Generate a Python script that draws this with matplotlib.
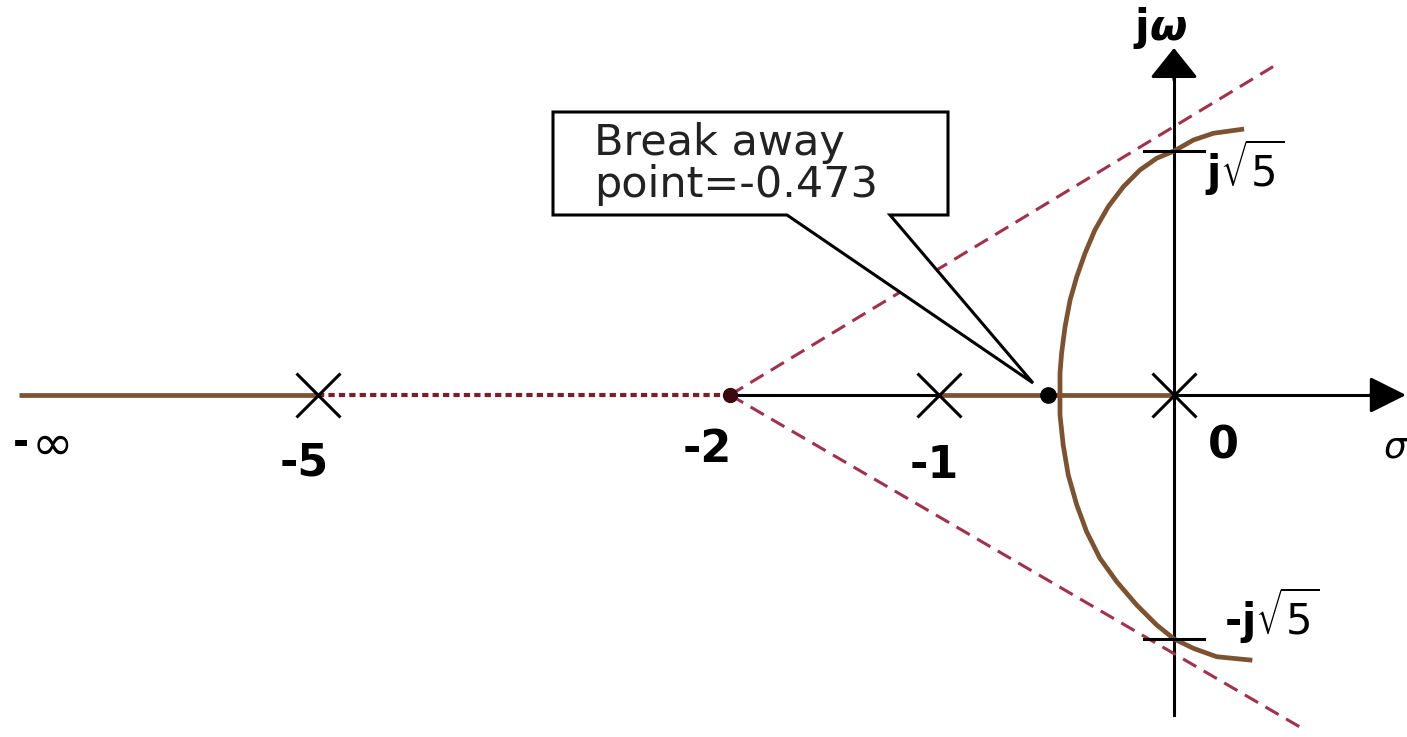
import numpy as np
import matplotlib.pyplot as plt
from matplotlib.patches import Polygon

# Root locus of G(s)H(s) = K / (s (s+1) (s+5))
poles = [-5, -1, 0]
centroid = -2
breakaway = -0.473
jw_cross = 2.236          # sqrt(5)
neg_inf = -7.17           # where the drawn "-inf" branch starts

# locus branches (sigma, omega)
upper_sigma = [-0.428, -0.428, -0.422, -0.409, -0.390, -0.365, -0.334, -0.297,
               -0.247, -0.190, -0.128, -0.065, 0.0, 0.082, 0.167, 0.287]
upper_omega = [0.0, 0.199, 0.382, 0.626, 0.871, 1.084, 1.299, 1.512,
               1.726, 1.909, 2.062, 2.170, 2.236, 2.337, 2.399, 2.435]
lower_sigma = [-0.428, -0.428, -0.416, -0.397, -0.365, -0.328, -0.278, -0.215,
               -0.140, -0.065, 0.0, 0.082, 0.181, 0.322]
lower_omega = [0.0, -0.183, -0.458, -0.733, -1.008, -1.253, -1.497, -1.711,
               -1.925, -2.108, -2.236, -2.322, -2.399, -2.429]

# asymptote end points (start at the centroid)
asym_sigma = [0.42, 0.547]
asym_omega = [3.01, -3.06]

tick_labels = ['-5', '-2', '-1', '0']

# the sketch is not to scale on the real axis -> piecewise "schematic" scale
sig_anchor = [-10, -5, -2, -1, -0.473, 0, 2]
px_anchor = [-372, 318, 730, 939, 1048, 1174, 1646]


def fwd(x):
    return np.interp(x, sig_anchor, px_anchor)


def inv(p):
    return np.interp(p, px_anchor, sig_anchor)


W, H = 1407, 737
fig = plt.figure(figsize=(W / 100, H / 100), dpi=100)
ax = fig.add_axes([0, 0, 1, 1])
ax.set_xscale('function', functions=(fwd, inv))
ax.set_xlim(inv(0), inv(W))
ax.set_ylim(-(H - 395) / 109.1, 395 / 109.1)
ax.axis('off')


def P(x, y):
    # pixel position of the reference -> figure fraction
    return x / W, 1 - y / H


brown = '#7d5230'
red = '#a3304c'
lw_ax = 2.2

# axes with arrows
ax.plot([centroid, inv(1390)], [0, 0], color='k', lw=lw_ax, zorder=2)
ax.annotate('', xy=(inv(1406), 0), xytext=(inv(1370), 0),
            arrowprops=dict(arrowstyle='-|>,head_length=0.9,head_width=0.45',
                            mutation_scale=25, color='k', lw=lw_ax,
                            shrinkA=0, shrinkB=0), zorder=3)
ax.plot([0, 0], [-(715 - 395) / 109.1, (395 - 70) / 109.1], color='k', lw=lw_ax, zorder=2)
ax.annotate('', xy=(0, (395 - 48) / 109.1), xytext=(0, (395 - 80) / 109.1),
            arrowprops=dict(arrowstyle='-|>,head_length=0.75,head_width=0.6',
                            mutation_scale=25, color='k', lw=lw_ax,
                            shrinkA=0, shrinkB=0), zorder=3)

# +/- j sqrt5 ticks
for w in (jw_cross, -jw_cross):
    ax.plot([inv(1144), inv(1204)], [w, w], color='k', lw=lw_ax, zorder=4)

# asymptotes
for s, w in zip(asym_sigma, asym_omega):
    ax.plot([centroid, s], [0, w], color=red, lw=2.2, ls=(0, (5, 2.8)), zorder=2)
ax.plot([poles[0], centroid], [0, 0], color='#7a1f2b', lw=3.0, ls=(0, (1.5, 1)), zorder=2)

# root locus
ax.plot([neg_inf, poles[0]], [0, 0], color=brown, lw=3.4, solid_capstyle='butt', zorder=3)
ax.plot([poles[1], poles[2]], [0, 0], color=brown, lw=3.4, solid_capstyle='butt', zorder=3)
ax.plot(upper_sigma, upper_omega, color=brown, lw=3.4, solid_joinstyle='round', zorder=3)
ax.plot(lower_sigma, lower_omega, color=brown, lw=3.4, solid_joinstyle='round', zorder=3)

# poles, centroid, breakaway
ax.plot(poles, [0] * len(poles), ls='none', marker='x', ms=32, mew=2.2, color='k', zorder=5)
ax.plot([centroid], [0], ls='none', marker='o', ms=10, color='#3a0a10', zorder=5)
ax.plot([breakaway], [0], ls='none', marker='o', ms=11, color='k', zorder=4)

# labels
fs = 32
lab_pos = [(304, 463), (707, 449), (934, 465), (1223, 446)]
for t, (x, y) in zip(tick_labels, lab_pos):
    fig.text(*P(x, y), t, fontsize=fs, fontweight='bold', ha='center', va='center')
fig.text(*P(13, 444), '-', fontsize=28, fontweight='bold', ha='left', va='center')
fig.text(*P(32, 446), '\u221e', fontsize=36, ha='left', va='center')
fig.text(*P(1383, 447), r'$\sigma$', fontsize=26, ha='left', va='center')
fig.text(*P(1160, 28), r'$\mathbf{j}\boldsymbol{\omega}$', fontsize=31, ha='center', va='center')
fig.text(*P(1205, 168), r'$\mathbf{j}\sqrt{5}$', fontsize=30, ha='left', va='center')
fig.text(*P(1224, 616), r'-$\mathbf{j}\sqrt{5}$', fontsize=30, fontweight='bold',
         ha='left', va='center')

# call-out box
box = [(553, 112), (948, 112), (948, 215), (890, 215), (1033, 383),
       (787, 215), (553, 215)]
fig.patches.append(Polygon([P(x, y) for x, y in box], closed=True,
                           transform=fig.transFigure, facecolor='white',
                           edgecolor='k', lw=2.2, zorder=6))
fig.text(*P(594, 164), 'Break away\npoint=-0.473', fontsize=31, ha='left',
         va='center', linespacing=1.0, color='#222222', zorder=7)

fig.savefig('out.png', dpi=100)
